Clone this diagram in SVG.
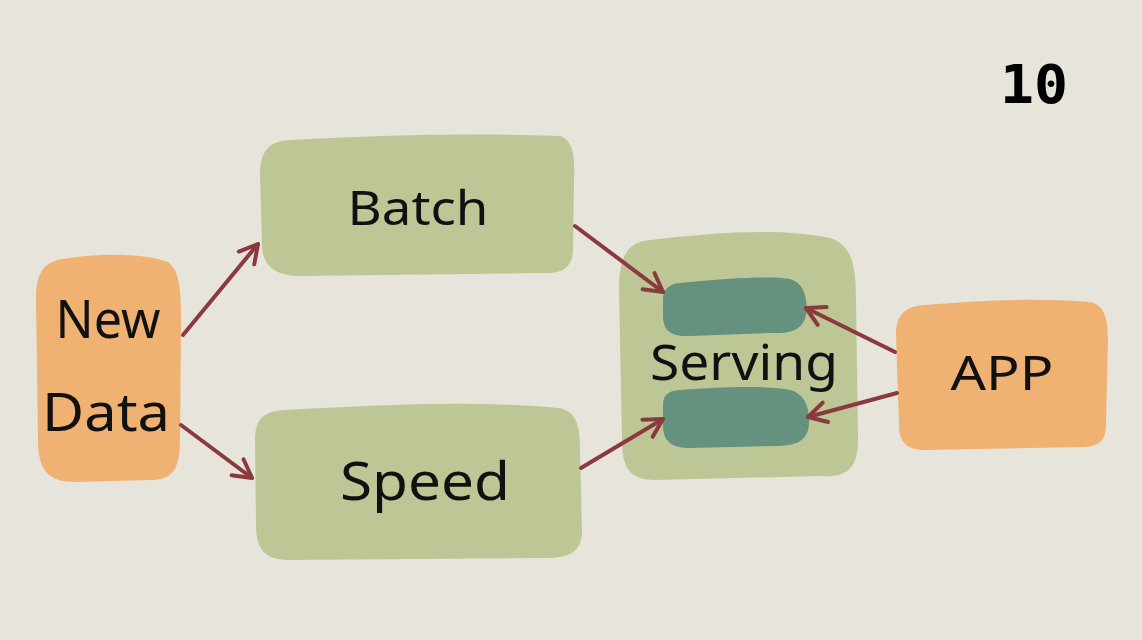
<svg xmlns="http://www.w3.org/2000/svg" width="1142" height="640" viewBox="0 0 1142 640">
<defs>
<style>
.lbl{font-family:"Noto Sans","DejaVu Sans",sans-serif;fill:#111;text-anchor:middle}
.orange{fill:#f0b273}
.green{fill:#bdc796}
.teal{fill:#64927f}
.conn{stroke:#8a3a3e;stroke-width:4;fill:none;stroke-linecap:round;marker-end:url(#ah)}
</style>
<marker id="ah" markerUnits="userSpaceOnUse" markerWidth="26" markerHeight="26" refX="22" refY="13" orient="auto" viewBox="0 0 26 26">
<path d="M4,3 L22,13 L4,23" fill="none" stroke="#8a3a3e" stroke-width="4" stroke-linecap="round" stroke-linejoin="round"/>
</marker>
</defs>
<rect x="0" y="0" width="1142" height="640" fill="#e7e4db"/>
<g id="newdata">
<path class="orange" d="M70,258 C110,252 150,255 168,262 C182,272 181,300 181,330 L180,440 C180,470 172,480 150,480 L75,482 C48,482 38,470 38,440 L36,300 C36,270 45,260 70,258 Z"/>
<text class="lbl" x="108" y="338" font-size="52" textLength="105" lengthAdjust="spacingAndGlyphs">New</text>
<text class="lbl" x="106" y="431" font-size="52" textLength="128" lengthAdjust="spacingAndGlyphs">Data</text>
</g>
<g id="batch">
<path class="green" d="M290,140 C380,135 470,133 560,136 C574,140 575,160 574,180 L573,250 C572,270 560,274 540,273 L300,276 C275,276 262,265 262,245 L260,175 C260,150 270,141 290,140 Z"/>
<text class="lbl" x="418" y="225" font-size="48" textLength="141" lengthAdjust="spacingAndGlyphs">Batch</text>
</g>
<g id="speed">
<path class="green" d="M285,410 C380,405 470,400 560,408 C578,412 580,430 580,450 L582,530 C582,552 570,558 545,558 L290,560 C265,560 256,550 256,525 L255,440 C255,418 265,411 285,410 Z"/>
<text class="lbl" x="425" y="500" font-size="52" textLength="170" lengthAdjust="spacingAndGlyphs">Speed</text>
</g>
<g id="serving">
<path class="green" d="M650,240 C720,232 780,228 830,238 C852,245 856,265 856,300 L858,440 C858,470 845,478 820,476 L655,480 C630,480 622,468 622,440 L619,290 C619,255 628,242 650,240 Z"/>
<path class="teal" d="M680,283 C730,278 770,276 790,279 C805,283 808,300 806,315 C803,330 790,334 770,333 L690,336 C670,337 663,330 663,315 L663,300 C663,290 668,284 680,283 Z"/>
<path class="teal" d="M680,390 C730,386 770,386 790,390 C806,394 810,410 809,425 C807,442 795,446 775,446 L690,448 C670,448 663,440 663,425 L663,405 C663,395 668,391 680,390 Z"/>
<text class="lbl" x="744" y="380" font-size="50" textLength="188" lengthAdjust="spacingAndGlyphs">Serving</text>
</g>
<g id="app">
<path class="orange" d="M925,305 C980,300 1040,298 1090,302 C1105,305 1108,320 1108,340 L1106,425 C1106,442 1098,447 1080,447 L925,450 C905,450 899,440 899,425 L896,335 C896,315 905,306 925,305 Z"/>
<text class="lbl" x="1002" y="390" font-size="48" textLength="103" lengthAdjust="spacingAndGlyphs">APP</text>
</g>
<g id="connectors">
<line class="conn" x1="183" y1="335" x2="258" y2="244"/>
<line class="conn" x1="181" y1="425" x2="252" y2="478"/>
<line class="conn" x1="575" y1="226" x2="663" y2="292"/>
<line class="conn" x1="581" y1="468" x2="663" y2="419"/>
<line class="conn" x1="895" y1="352" x2="806" y2="308"/>
<line class="conn" x1="897" y1="393" x2="808" y2="417"/>
</g>
<text x="1034" y="103" font-family="DejaVu Sans Mono,monospace" font-weight="bold" font-size="54" text-anchor="middle" fill="#000" textLength="68" lengthAdjust="spacingAndGlyphs">10</text>
</svg>
